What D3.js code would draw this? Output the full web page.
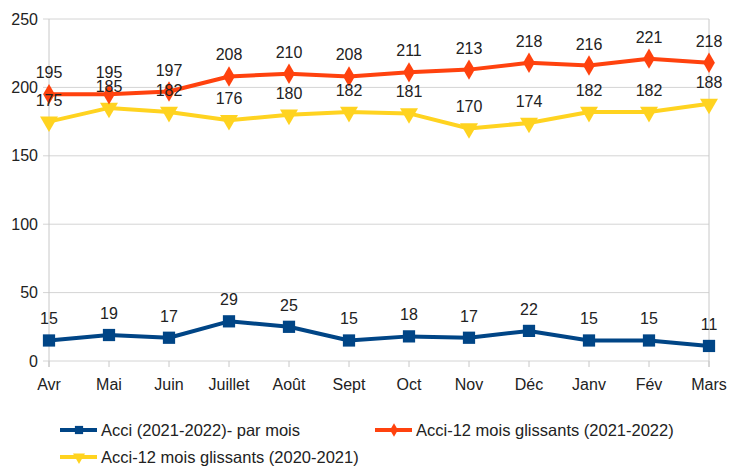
<!DOCTYPE html>
<html>
<head>
<meta charset="utf-8">
<script src="https://cdn.jsdelivr.net/npm/d3@7"></script>
<style>
  body { margin: 0; background: #fff; }
  text { font-family: 'Liberation Sans', Arial, sans-serif; fill: #222; }
</style>
</head>
<body>
<div id="chartArea"></div>
<script>
const months = ['Avr', 'Mai', 'Juin', 'Juillet', 'Août', 'Sept', 'Oct', 'Nov', 'Déc', 'Janv', 'Fév', 'Mars']
const acciMois = [15, 19, 17, 29, 25, 15, 18, 17, 22, 15, 15, 11]
const glissants2122 = [195, 195, 197, 208, 210, 208, 211, 213, 218, 216, 221, 218]
const glissants2021 = [175, 185, 182, 176, 180, 182, 181, 170, 174, 182, 182, 188]
const yTicks = [0, 50, 100, 150, 200, 250]

const series = [
  { name: 'Acci (2021-2022)- par mois', values: acciMois, color: '#004586', shape: 'square' },
  { name: 'Acci-12 mois glissants (2021-2022)', values: glissants2122, color: '#ff420e', shape: 'diamond' },
  { name: 'Acci-12 mois glissants (2020-2021)', values: glissants2021, color: '#ffd320', shape: 'triangle' }
]

const width = 730
const height = 467
const margin = { top: 19, right: 21, bottom: 106, left: 49 }
const innerWidth = width - margin.left - margin.right
const innerHeight = height - margin.top - margin.bottom
const fs = 16

const svg = d3.select('#chartArea').append('svg')
  .attr('width', width)
  .attr('height', height)

const g = svg.append('g').attr('transform', `translate(${margin.left},${margin.top})`)

const x = d3.scalePoint().domain(months).range([0, innerWidth])
const y = d3.scaleLinear().domain([0, 250]).range([innerHeight, 0])

// grid lines
g.selectAll('.grid')
  .data(yTicks)
  .join('line')
  .attr('x1', -6)
  .attr('x2', innerWidth)
  .attr('y1', d => y(d))
  .attr('y2', d => y(d))
  .attr('stroke', '#d4d4d4')
  .attr('stroke-width', 1)

// frame sides
g.append('line').attr('x1', 0).attr('x2', 0).attr('y1', 0).attr('y2', innerHeight + 6)
  .attr('stroke', '#c8c8c8')
g.append('line').attr('x1', innerWidth).attr('x2', innerWidth).attr('y1', 0).attr('y2', innerHeight + 6)
  .attr('stroke', '#c8c8c8')

// x ticks
g.selectAll('.xtick')
  .data(months)
  .join('line')
  .attr('x1', d => x(d))
  .attr('x2', d => x(d))
  .attr('y1', innerHeight)
  .attr('y2', innerHeight + 6)
  .attr('stroke', '#c8c8c8')

// y labels
g.selectAll('.ylab')
  .data(yTicks)
  .join('text')
  .attr('x', -11)
  .attr('y', d => y(d))
  .attr('dy', '0.35em')
  .attr('text-anchor', 'end')
  .attr('font-size', fs)
  .text(d => d)

// x labels
g.selectAll('.xlab')
  .data(months)
  .join('text')
  .attr('x', d => x(d))
  .attr('y', innerHeight + 29)
  .attr('text-anchor', 'middle')
  .attr('font-size', fs)
  .text(d => d)

const symbolFor = (shape, big) => {
  const k = big ? 1 : 0.45
  if (shape === 'square') return d3.symbol().type(d3.symbolSquare).size(150 * k)
  if (shape === 'diamond') return d3.symbol().type(d3.symbolDiamond).size(120 * k)
  return d3.symbol().type(d3.symbolTriangle).size(140 * k)
}

const line = d3.line()
  .x((d, i) => x(months[i]))
  .y(d => y(d))

// draw series (yellow first, blue on top)
const drawOrder = [series[2], series[1], series[0]]
drawOrder.forEach(s => {
  g.append('path')
    .datum(s.values)
    .attr('fill', 'none')
    .attr('stroke', s.color)
    .attr('stroke-width', 4)
    .attr('stroke-linejoin', 'round')
    .attr('d', line)

  g.selectAll(null)
    .data(s.values)
    .join('path')
    .attr('d', symbolFor(s.shape, true))
    .attr('transform', (d, i) => `translate(${x(months[i])},${y(d)})` + (s.shape === 'triangle' ? ' rotate(180)' : ''))
    .attr('fill', s.color)
})

// data labels
series.forEach(s => {
  g.selectAll(null)
    .data(s.values)
    .join('text')
    .attr('x', (d, i) => x(months[i]))
    .attr('y', d => y(d) - 16)
    .attr('text-anchor', 'middle')
    .attr('font-size', fs)
    .text(d => d)
})

// legend
const legendItems = [
  { s: series[0], x: 60, y: 430 },
  { s: series[1], x: 375, y: 430 },
  { s: series[2], x: 60, y: 457 }
]
const legend = svg.append('g')
legendItems.forEach(it => {
  legend.append('line')
    .attr('x1', it.x).attr('x2', it.x + 37)
    .attr('y1', it.y).attr('y2', it.y)
    .attr('stroke', it.s.color)
    .attr('stroke-width', 4)
  legend.append('path')
    .attr('d', symbolFor(it.s.shape, false))
    .attr('transform', `translate(${it.x + 19},${it.y})` + (it.s.shape === 'triangle' ? ' rotate(180)' : ''))
    .attr('fill', it.s.color)
  legend.append('text')
    .attr('x', it.x + 41)
    .attr('y', it.y)
    .attr('dy', '0.35em')
    .attr('font-size', 16.5)
    .text(it.s.name)
})
</script>
</body>
</html>
